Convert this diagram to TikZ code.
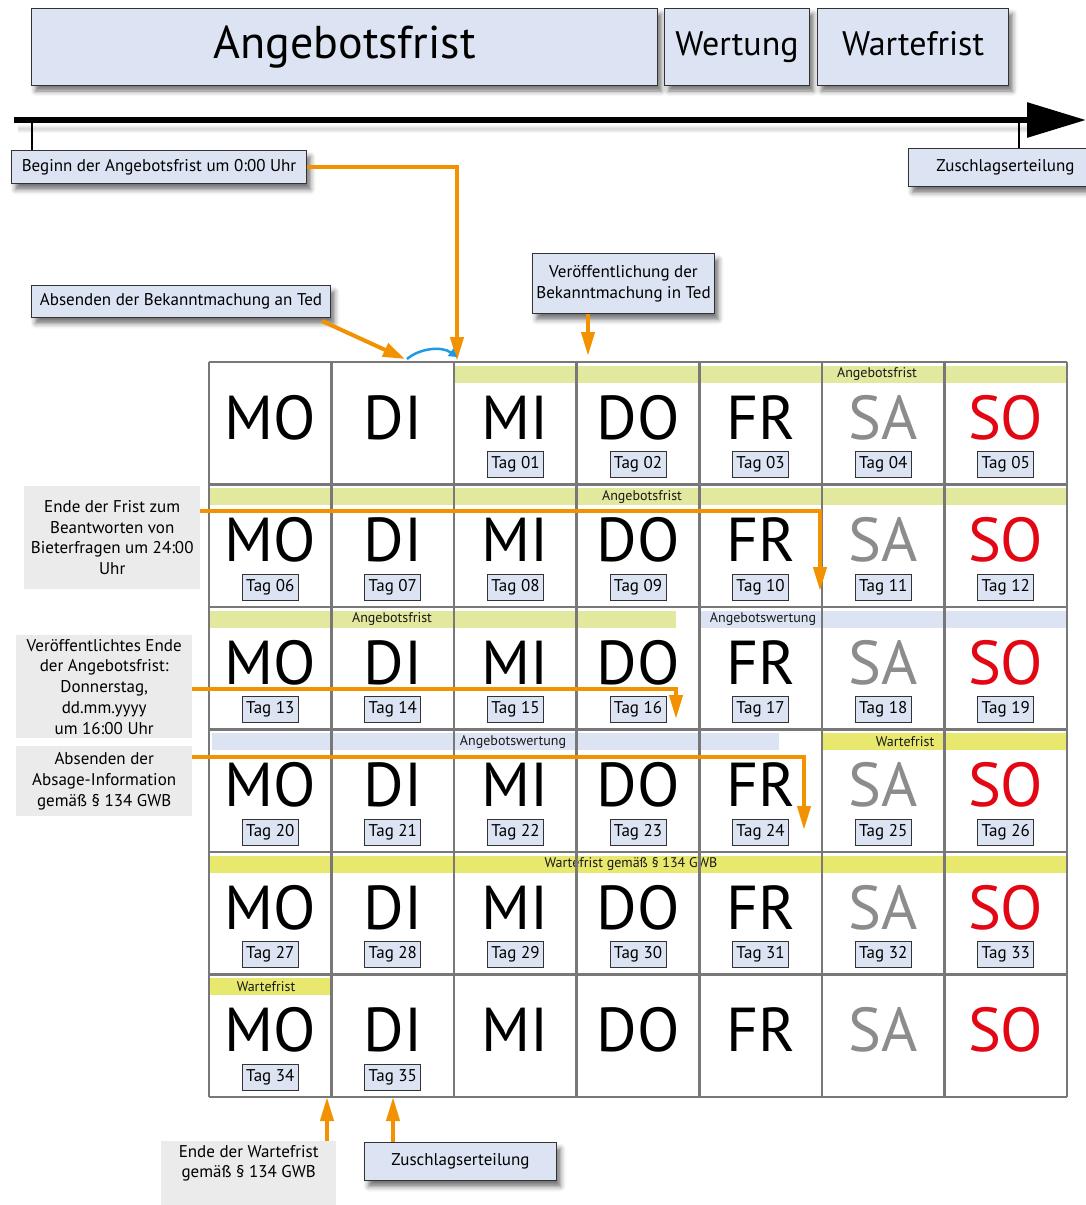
\documentclass[tikz,border=0pt]{standalone}
\usepackage{fontspec}
\setmainfont{PT Sans}
\usetikzlibrary{arrows.meta,shadows.blur,calc}
\definecolor{boxblue}{HTML}{DCE4F3}
\definecolor{bandgreen}{HTML}{E2E89D}
\definecolor{bandyellow}{HTML}{E8E86E}
\definecolor{bandblue}{HTML}{DCE4F3}
\definecolor{grayfill}{HTML}{EBEBEB}
\definecolor{aorange}{HTML}{F39200}
\definecolor{gridgray}{HTML}{787878}
\definecolor{sagray}{HTML}{8C8C8C}
\definecolor{sored}{HTML}{E30613}
\definecolor{acyan}{HTML}{1D9BE0}
\begin{document}
\begin{tikzpicture}[x=1pt,y=-1pt,
  bluebox/.style={draw=black!80, line width=1pt, fill=boxblue,
    blur shadow={shadow xshift=4pt, shadow yshift=-6pt, shadow blur radius=5pt, shadow opacity=55},
    anchor=north west, inner sep=0},
  graybox/.style={fill=grayfill, align=center, font=\fontsize{17}{20.7}\selectfont, inner sep=0, anchor=north west},
  oline/.style={draw=aorange, line width=4pt},
  oarrow/.style={oline, -{Triangle[length=24pt,width=13pt]}},
  day/.style={font=\fontsize{62}{62}\selectfont, anchor=base, inner sep=0},
  tagbox/.style={draw=black!80, fill=boxblue, line width=1pt, font=\fontsize{17}{17}\selectfont,
    minimum width=56, minimum height=26, inner sep=0, text height=12, text depth=3.5},
  bandlabel/.style={font=\fontsize{14}{14}\selectfont, inner sep=0, text=black!90},
  gridline/.style={draw=gridgray, line width=2.5pt},
]
\useasboundingbox (0,0) rectangle (1086,1205);

% ---------- header ----------
\node[bluebox, minimum width=626, minimum height=77, font=\fontsize{46}{46}\selectfont, text height=33, text depth=10] (hA) at (31,7.5) {Angebotsfrist};
\node[bluebox, minimum width=145, minimum height=77, font=\fontsize{34}{34}\selectfont, text height=24, text depth=7] (hW) at (664,7.5) {Wertung};
\node[bluebox, minimum width=191, minimum height=77, font=\fontsize{34}{34}\selectfont, text height=24, text depth=7] (hF) at (817,7.5) {Wartefrist};

% ---------- timeline ----------
\coordinate (tl0) at (14,120);
\coordinate (tl1) at (1086,120);
\foreach \k in {1,...,5}
  \fill[black, opacity=0.035] (18,{124+\k}) rectangle (1030,{134-\k});
\draw[line width=6pt, -{Triangle[length=59pt,width=34pt]}] (tl0) -- (tl1);
\node[bluebox, minimum width=295, minimum height=33, font=\fontsize{17}{17}\selectfont] (beginn) at (11,150) {Beginn der Angebotsfrist um 0:00 Uhr};
\node[bluebox, minimum width=194, minimum height=38, font=\fontsize{17}{17}\selectfont] (zuschlagtop) at (908,148) {Zuschlagserteilung};
\coordinate (tk0) at (32,120);
\coordinate (tk1) at (1019,120);
\draw[line width=2pt] (tk0) -- (tk0 |- beginn.north);
\draw[line width=2pt] (tk1) -- (tk1 |- zuschlagtop.north);

% ---------- bands ----------
\newcommand{\band}[4]{\fill[#4] (#2,{362+#1*122.5+3.5}) rectangle (#3,{362+#1*122.5+20.5});}
\band{0}{455}{1068}{bandgreen}
\band{1}{210}{1068}{bandgreen}
\band{2}{210}{676}{bandgreen}
\band{2}{700}{1068}{bandblue}
\band{3}{212}{779}{bandblue}
\band{3}{822}{1068}{bandyellow}
\band{4}{210}{1068}{bandyellow}
\band{5}{210}{332}{bandyellow}

\node[bandlabel] (l0) at (877,{362+12}) {Angebotsfrist};
\node[bandlabel] (l1) at (642,{362+122.5+12}) {Angebotsfrist};
\node[bandlabel] (l2a) at (392,{362+2*122.5+12}) {Angebotsfrist};
\node[bandlabel] (l2b) at (763,{362+2*122.5+12}) {Angebotswertung};
\node[bandlabel] (l3a) at (513,{362+3*122.5+12}) {Angebotswertung};
\node[bandlabel] (l3b) at (905,{362+3*122.5+12}) {Wartefrist};
\node[bandlabel] (l4) at (631,{362+4*122.5+12}) {Wartefrist gemäß § 134 GWB};
\node[bandlabel] (l5) at (266,{362+5*122.5+12}) {Wartefrist};

% ---------- grid ----------
\foreach \i in {0,...,7} \draw[gridline] ({209+\i*122.571},362) -- ({209+\i*122.571},1097);
\foreach \j in {0,...,6} \draw[gridline] (209,{362+\j*122.5}) -- (1067,{362+\j*122.5});

% ---------- days and tags ----------
\foreach \c/\d/\col in {0/MO/black,1/DI/black,2/MI/black,3/DO/black,4/FR/black,5/SA/sagray,6/SO/sored}{
  \foreach \r in {0,...,5}{
    \node[day, text=\col] (d\r\c) at ({209+(\c+0.5)*122.571},{362+\r*122.5+77}) {\d};
    \pgfmathtruncatemacro\n{7*\r+\c-1}
    \ifnum\n>0 \ifnum\n<36
      \node[tagbox] (t\n) at ({209+(\c+0.5)*122.571},{362+\r*122.5+102.5}) {Tag \ifnum\n<10 0\fi\n};
    \fi\fi
  }
}

% ---------- annotation boxes ----------
\node[bluebox, minimum width=299, minimum height=32, font=\fontsize{17}{17}\selectfont] (absenden) at (31,285) {Absenden der Bekanntmachung an Ted};
\node[bluebox, minimum width=182, minimum height=60, align=center, font=\fontsize{17}{21}\selectfont] (veroeff) at (532,253) {Veröffentlichung der\\Bekanntmachung in Ted};

\node[graybox, minimum width=176, minimum height=103] (b1) at (24,486) {Ende der Frist zum\\Beantworten von\\Bieterfragen um 24:00\\Uhr};
\node[graybox, minimum width=176, minimum height=103] (b2) at (16,635) {Veröffentlichtes Ende\\der Angebotsfrist:\\Donnerstag,\\dd.mm.yyyy\\um 16:00 Uhr};
\node[graybox, minimum width=176, minimum height=70] (b3) at (16,746) {Absenden der\\Absage-Information\\gemäß § 134 GWB};
\node[graybox, minimum width=175, minimum height=66] (b4) at (161,1141) {};
\node[font=\fontsize{17}{20.7}\selectfont, align=center, anchor=north, inner sep=0] (b4t) at ($(b4.north)+(0,4)$) {Ende der Wartefrist\\gemäß § 134 GWB};
\node[bluebox, minimum width=192, minimum height=38, font=\fontsize{17}{17}\selectfont] (zuschlag) at (364,1142) {Zuschlagserteilung};

% ---------- connectors ----------
\coordinate (c0a) at (457,167);
\coordinate (c0b) at (457,361);
\draw[oarrow] (beginn.east |- c0a) -- (c0a) -- (c0b);

\coordinate (abs0) at ($(absenden.south east)+(-9,3)$);
\coordinate (abs1) at (405,359);
\draw[oarrow, -{Triangle[length=22pt,width=14pt]}] (abs0) -- (abs1);

\coordinate (arc0) at (407,359);
\coordinate (arc1) at (457,357);
\draw[acyan, line width=2.5pt, -{Triangle[length=8pt,width=9pt]}] (arc0) .. controls (420,348) and (442,346) .. (arc1);

\coordinate (v1) at (588,356);
\draw[oarrow] (v1 |- veroeff.south) -- (v1);

\coordinate (p1) at (820,511);
\coordinate (q1) at (820,591);
\draw[oarrow] (b1.east |- p1) -- (p1) -- (q1);

\coordinate (p2) at (676,689);
\coordinate (q2) at (676,719);
\draw[oarrow] (b2.east |- p2) -- (p2) -- (q2);

\coordinate (p3) at (804,757);
\coordinate (q3) at (804,830);
\draw[oarrow] (b3.east |- p3) -- (p3) -- (q3);

\coordinate (e4) at (327,1097);
\draw[oarrow] (e4 |- b4.north) -- (e4);
\coordinate (e5) at (393,1097);
\draw[oarrow] (e5 |- zuschlag.north) -- (e5);
\end{tikzpicture}
\end{document}
